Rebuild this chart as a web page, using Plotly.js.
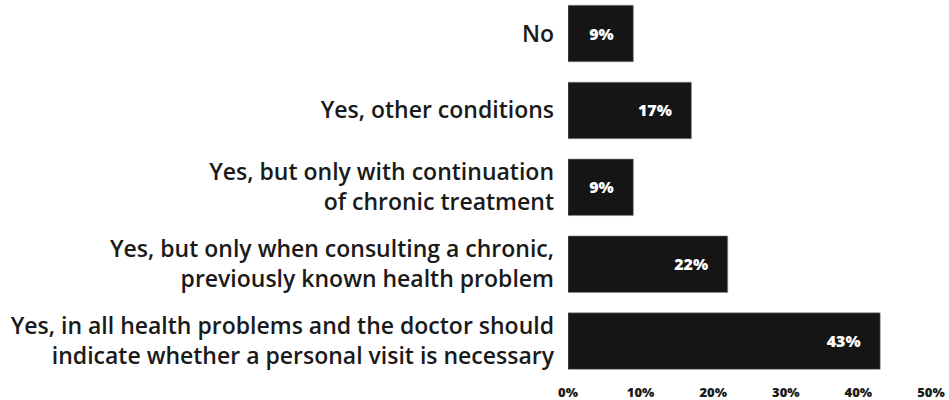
<!DOCTYPE html>
<html><head><meta charset="utf-8">
<script src="https://cdn.plot.ly/plotly-3.0.1.min.js"></script>
<style>body{margin:0;background:#fff}#c{width:949px;height:400px}</style>
</head><body><div id="c"></div>
<script>
const categories = [
  "No",
  "Yes, other conditions",
  "Yes, but only with continuation<br>of chronic treatment",
  "Yes, but only when consulting a chronic,<br>previously known health problem",
  "Yes, in all health problems and the doctor should<br>indicate whether a personal visit is necessary"
];
const values = [9, 17, 9, 22, 43];
const tickVals = [0, 10, 20, 30, 40, 50];
const tickText = ["0%", "10%", "20%", "30%", "40%", "50%"];

const pad = "\u00a0\u00a0\u00a0\u00a0";
Plotly.newPlot("c", [{
  type: "bar",
  orientation: "h",
  y: categories,
  x: values,
  marker: {color: "#151515", line: {color: "#8a8a8a", width: 0.6}},
  text: values.map(v => v + "%" + pad),
  textposition: "inside",
  insidetextanchor: "end",
  constraintext: "none",
  textfont: {family: "Open Sans", size: 16, color: "#ffffff", weight: 800},
  hoverinfo: "none",
  cliponaxis: false
}], {
  width: 949, height: 400,
  margin: {l: 568, r: 18, t: 0, b: 20},
  paper_bgcolor: "#fff", plot_bgcolor: "#fff",
  bargap: 0.265,
  showlegend: false,
  xaxis: {
    range: [0, 50],
    tickvals: tickVals, ticktext: tickText,
    showgrid: false, zeroline: false, showline: false,
    ticks: "", ticklabelstandoff: 3,
    tickfont: {family: "Open Sans", size: 13, color: "#1a1a1a", weight: 800}
  },
  yaxis: {
    type: "category",
    categoryorder: "array", categoryarray: categories,
    range: [4.506, -0.436],
    showgrid: false, zeroline: false, showline: false,
    ticks: "", ticklabelstandoff: 13,
    tickfont: {family: "Open Sans", size: 23, color: "#1a1a1a", weight: 600}
  }
}, {staticPlot: true});
</script></body></html>
